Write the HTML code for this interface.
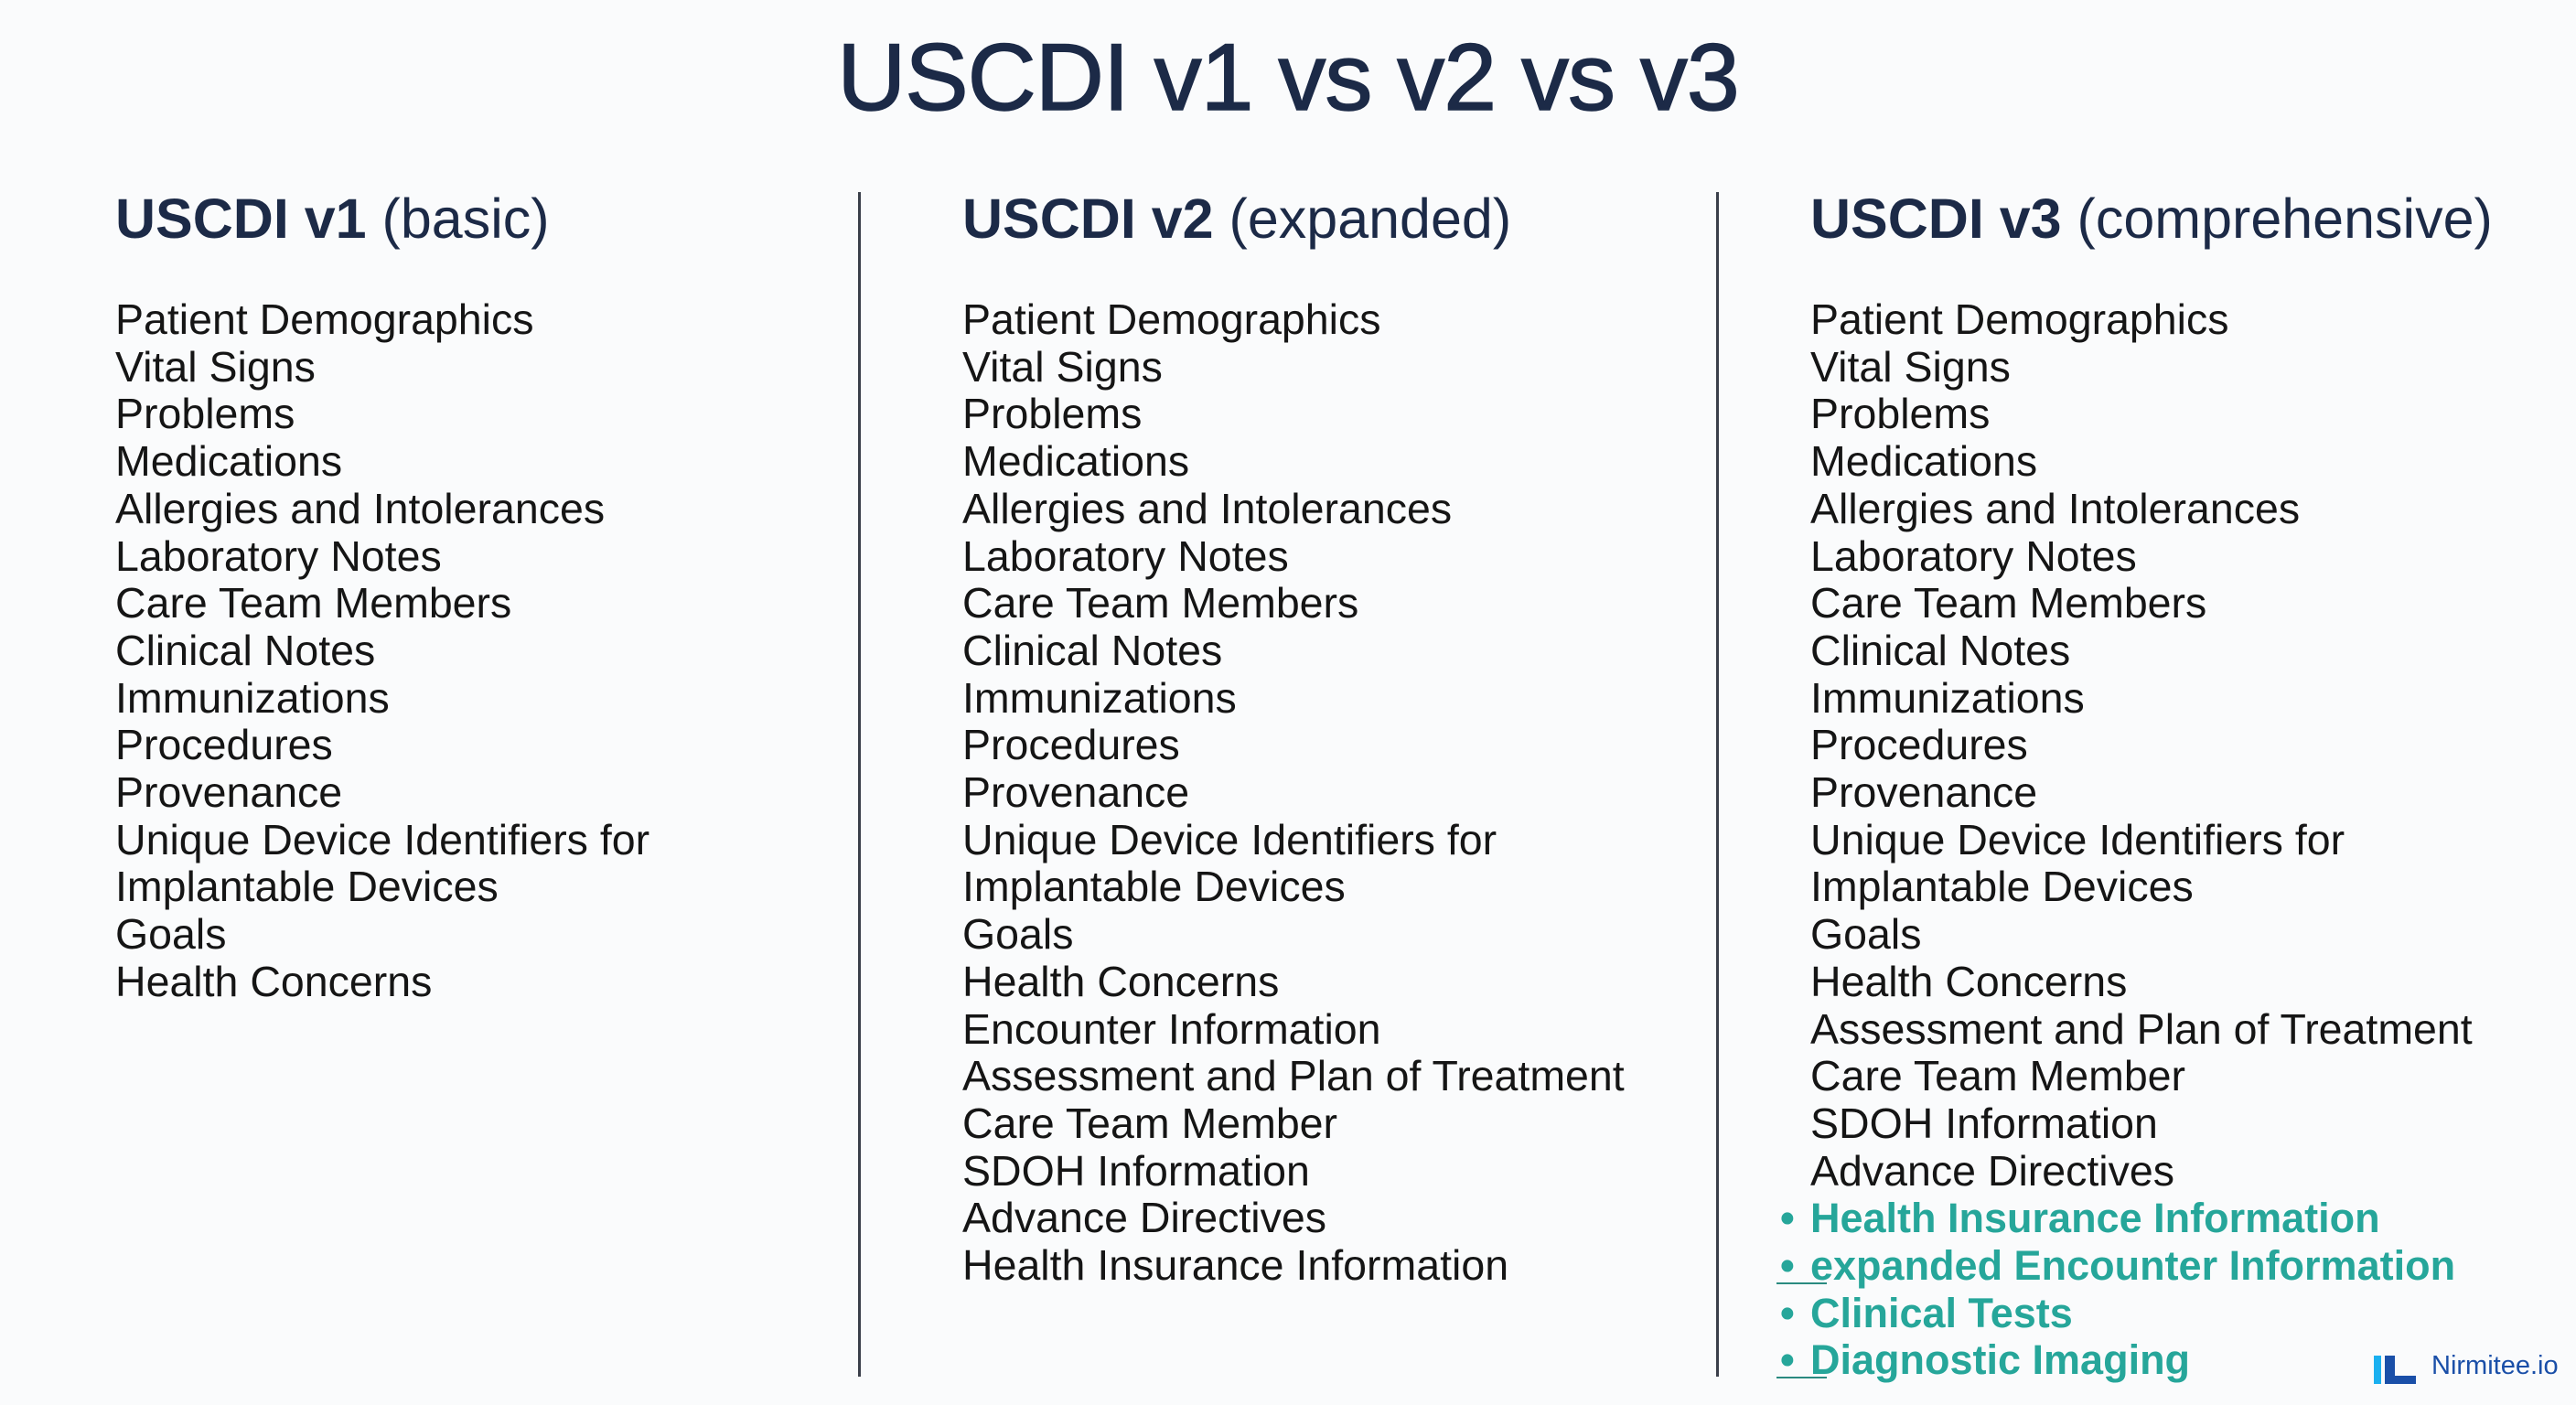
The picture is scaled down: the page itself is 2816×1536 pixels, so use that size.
<!DOCTYPE html>
<html><head><meta charset="utf-8"><style>
html,body{margin:0;padding:0}
body{width:2816px;height:1536px;background:#fafbfc;position:relative;overflow:hidden;font-family:"Liberation Sans",sans-serif}
.title{position:absolute;left:0;width:2816px;top:26px;text-align:center;font-size:104px;color:#1c2a47;letter-spacing:-1px;-webkit-text-stroke:1.5px #1c2a47}
.hdr{position:absolute;top:204px;font-size:61px;color:#1c2a47;white-space:nowrap}
.hdr b{font-weight:bold}
.list{position:absolute;top:324px;margin:0;padding:0;list-style:none;font-size:46.5px;line-height:51.7px;color:#151515;white-space:nowrap}
.div{position:absolute;top:210px;width:3px;height:1295px;background:#3a3f4a}
.new{color:#26a69a;font-weight:bold;position:relative;font-size:45px}
.new .dot{position:absolute;left:-33px;top:0}
.logo{position:absolute;left:2595px;top:1482px;width:46px;height:31px}
.logotext{position:absolute;left:2658px;top:1477px;font-size:29px;color:#1a4fa8}
</style></head><body>
<div class="title">USCDI v1 vs v2 vs v3</div>

<div class="hdr" style="left:126px"><b>USCDI v1</b> (basic)</div>
<div class="hdr" style="left:1052px"><b>USCDI v2</b> (expanded)</div>
<div class="hdr" style="left:1979px"><b>USCDI v3</b> (comprehensive)</div>

<div class="div" style="left:938px"></div>
<div class="div" style="left:1876px"></div>

<ul class="list" style="left:126px">
<li>Patient Demographics</li><li>Vital Signs</li><li>Problems</li><li>Medications</li><li>Allergies and Intolerances</li><li>Laboratory Notes</li><li>Care Team Members</li><li>Clinical Notes</li><li>Immunizations</li><li>Procedures</li><li>Provenance</li><li>Unique Device Identifiers for</li><li>Implantable Devices</li><li>Goals</li><li>Health Concerns</li>
</ul>

<ul class="list" style="left:1052px">
<li>Patient Demographics</li><li>Vital Signs</li><li>Problems</li><li>Medications</li><li>Allergies and Intolerances</li><li>Laboratory Notes</li><li>Care Team Members</li><li>Clinical Notes</li><li>Immunizations</li><li>Procedures</li><li>Provenance</li><li>Unique Device Identifiers for</li><li>Implantable Devices</li><li>Goals</li><li>Health Concerns</li><li>Encounter Information</li><li>Assessment and Plan of Treatment</li><li>Care Team Member</li><li>SDOH Information</li><li>Advance Directives</li><li>Health Insurance Information</li>
</ul>

<ul class="list" style="left:1979px">
<li>Patient Demographics</li><li>Vital Signs</li><li>Problems</li><li>Medications</li><li>Allergies and Intolerances</li><li>Laboratory Notes</li><li>Care Team Members</li><li>Clinical Notes</li><li>Immunizations</li><li>Procedures</li><li>Provenance</li><li>Unique Device Identifiers for</li><li>Implantable Devices</li><li>Goals</li><li>Health Concerns</li><li>Assessment and Plan of Treatment</li><li>Care Team Member</li><li>SDOH Information</li><li>Advance Directives</li>
<li class="new"><span class="dot">•</span>Health Insurance Information</li>
<li class="new"><span class="dot">•</span>expanded Encounter Information</li>
<li class="new"><span class="dot">•</span>Clinical Tests</li>
<li class="new"><span class="dot">•</span>Diagnostic Imaging</li>
</ul>
<div style="position:absolute;left:1942px;top:1402px;width:55px;height:2px;background:#2a8a80"></div>
<div style="position:absolute;left:1942px;top:1505px;width:55px;height:2px;background:#2a8a80"></div>

<svg class="logo" viewBox="0 0 46 31">
<rect x="0" y="0" width="8" height="31" fill="#1ab0f0"/>
<rect x="12" y="0" width="11" height="31" fill="#1a4fa8"/>
<rect x="12" y="22" width="34" height="9" fill="#1a4fa8"/>
</svg>
<div class="logotext">Nirmitee.io</div>
</body></html>
